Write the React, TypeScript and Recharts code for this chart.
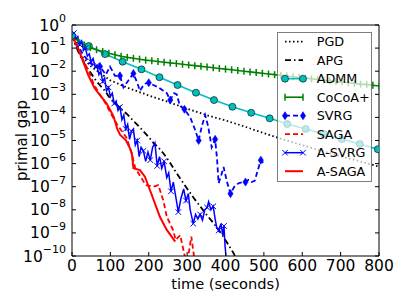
import React from 'react';
import { LineChart, Line, XAxis, YAxis } from 'recharts';

// axis ticks
const xTicks = [0, 100, 200, 300, 400, 500, 600, 700, 800];
const yTicks = [1, 1e-1, 1e-2, 1e-3, 1e-4, 1e-5, 1e-6, 1e-7, 1e-8, 1e-9, 1e-10];

const legendNames = ['PGD', 'APG', 'ADMM', 'CoCoA+', 'SVRG', 'SAGA', 'A-SVRG', 'A-SAGA'];

// primal gap, stored as log10 exponents
const pgdTime = [0, 10, 25, 50, 75, 100, 150, 200, 250, 300, 350, 400, 450, 500, 550, 600, 650, 700, 750, 800];
const pgdExp = [-0.45, -0.9, -1.35, -1.8, -2.1, -2.4, -2.75, -3.05, -3.33, -3.62, -3.9, -4.13, -4.4, -4.68, -4.95, -5.2, -5.45, -5.68, -5.9, -6.13];

const apgTime = [0, 8, 15, 25, 35, 50, 62, 75, 86, 96, 110, 125, 143, 160, 175, 186, 200, 212, 225, 238, 255, 270, 290, 305, 320, 334, 350, 365, 377, 392, 405, 420, 428];
const apgExp = [-0.45, -0.8, -1.1, -1.45, -1.75, -2.1, -2.4, -2.65, -2.85, -3.1, -3.35, -3.6, -3.85, -4.15, -4.4, -4.6, -4.85, -5.1, -5.3, -5.55, -5.95, -6.35, -6.85, -7.2, -7.55, -7.85, -8.2, -8.5, -8.75, -9.1, -9.45, -9.85, -10.1];

const admmTime = [0, 44, 86, 132, 181, 228, 275, 323, 370, 418, 467, 515, 561, 609, 656, 703, 750, 797];
const admmExp = [-0.45, -0.91, -1.26, -1.59, -1.92, -2.26, -2.6, -2.93, -3.25, -3.54, -3.8, -4.04, -4.29, -4.5, -4.72, -4.94, -5.15, -5.38];

const cocoaTime = [0, 16, 32, 48, 64, 80, 96, 112, 128, 144, 160, 176, 192, 208, 224, 240, 256, 272, 288, 304, 320, 336, 352, 368, 384, 400, 416, 432, 448, 464, 480, 496, 512, 528, 544, 560, 576, 592, 608, 624, 640, 656, 672, 688, 704, 720, 736, 752, 768, 784, 800];
const cocoaExp = [-0.45, -0.7, -0.87, -0.98, -1.07, -1.15, -1.22, -1.29, -1.35, -1.4, -1.44, -1.48, -1.52, -1.55, -1.58, -1.61, -1.64, -1.67, -1.7, -1.73, -1.76, -1.79, -1.82, -1.85, -1.88, -1.91, -1.94, -1.97, -2.0, -2.03, -2.06, -2.09, -2.12, -2.15, -2.18, -2.21, -2.24, -2.27, -2.3, -2.33, -2.36, -2.39, -2.42, -2.45, -2.47, -2.5, -2.53, -2.56, -2.58, -2.61, -2.64];

const svrgTime = [0, 15, 30, 45, 60, 73, 88, 99, 112, 125, 134, 147, 160, 170, 177, 188, 200, 212, 225, 238, 247, 256, 266, 273, 281, 293, 308, 320, 330, 338, 347, 355, 364, 373, 378, 382, 389, 395, 404, 413, 423, 434, 445, 452, 460, 468, 476, 492, 503];
const svrgExp = [-0.45, -0.9, -1.3, -1.6, -1.85, -1.8, -2.15, -1.8, -2.2, -2.2, -2.7, -2.4, -2.1, -2.5, -2.85, -2.55, -2.5, -2.6, -2.7, -2.85, -2.95, -3.25, -2.95, -3.0, -3.5, -3.65, -4.0, -4.5, -5.0, -4.4, -3.9, -4.4, -5.3, -4.95, -5.8, -6.85, -6.5, -6.15, -6.8, -7.3, -7.0, -6.85, -6.8, -6.8, -6.7, -6.8, -6.75, -5.85, -6.05];
const svrgMarkTime = [73, 125, 160, 200, 256, 293, 330, 373, 413, 452, 492];

const sagaTime = [0, 15, 30, 45, 55, 70, 85, 100, 116, 130, 143, 156, 165, 180, 192, 212, 225, 238, 247, 264, 270, 282, 299, 311, 321];
const sagaExp = [-0.45, -0.95, -1.55, -2.05, -2.5, -2.95, -3.32, -3.8, -4.26, -4.6, -4.9, -5.6, -6.2, -6.6, -6.93, -7.0, -6.93, -7.6, -8.3, -8.9, -9.3, -9.1, -10.4, -9.16, -10.4];

const asvrgTime = [0, 5, 10, 15, 20, 25, 30, 35, 40, 45, 50, 55, 60, 65, 70, 75, 80, 85, 90, 95, 100, 105, 110, 115, 120, 125, 130, 135, 140, 145, 150, 155, 160, 165, 170, 175, 180, 186, 192, 198, 204, 210, 216, 222, 228, 234, 240, 247, 252, 258, 264, 270, 277, 284, 291, 297, 303, 308, 316, 322, 328, 334, 340, 346, 352, 356, 362, 368, 373, 377, 382, 388, 393, 396, 399, 403];
const asvrgExp = [-0.45, -0.35, -0.6, -0.5, -0.85, -0.7, -1.1, -1.0, -1.35, -1.25, -1.6, -1.45, -1.8, -1.75, -2.15, -2.0, -2.45, -2.3, -2.85, -2.7, -3.1, -2.95, -3.4, -3.3, -3.7, -3.55, -4.1, -3.9, -4.5, -4.3, -4.95, -4.6, -4.5, -5.2, -5.0, -5.7, -5.3, -5.45, -5.9, -5.5, -5.85, -5.3, -5.1, -6.1, -5.7, -6.2, -5.9, -6.6, -6.4, -7.2, -6.8, -7.4, -8.1, -7.5, -7.1, -7.6, -7.3, -8.0, -8.6, -8.2, -8.4, -8.2, -8.45, -8.0, -7.9, -7.65, -8.0, -7.85, -8.4, -8.75, -8.9, -8.6, -9.1, -8.7, -9.6, -10.3];

const asagaTime = [0, 16, 29, 42, 59, 76, 90, 108, 118, 125, 140, 150, 156, 160, 177, 190, 208, 229, 247, 269];
const asagaExp = [-0.45, -1.0, -1.59, -2.16, -2.74, -3.1, -3.39, -3.95, -4.5, -4.75, -4.98, -5.3, -5.55, -6.2, -6.28, -6.57, -7.36, -8.3, -8.87, -9.38];

const toRows = (ts: number[], es: number[]) => ts.map((t, i) => ({ t, gap: Math.pow(10, es[i]) }));

const FONT = '"DejaVu Sans", "Bitstream Vera Sans", sans-serif';
const BLUE = '#0000ff';
const RED = '#ff0000';
const GREEN = '#008000';
const CYAN = '#00bfbf';

const XTick = ({ x, y, payload }: any) => (
  <text x={x} y={y} textAnchor="middle" fontFamily={FONT} fontSize={15.5} fill="#000">
    {payload.value}
  </text>
);

const YTick = ({ x, y, payload }: any) => {
  const e = Math.round(Math.log10(payload.value));
  return (
    <text x={x} y={y + 5.5} textAnchor="end" fontFamily={FONT} fontSize={15.5} fill="#000">
      <tspan>10</tspan>
      <tspan dy={-8.5} fontSize={11}>{e === 0 ? '0' : '\u2212' + Math.abs(e)}</tspan>
    </text>
  );
};

const NoTick = () => <g />;

const XTitle = () => (
  <text x={225.5} y={288.5} textAnchor="middle" fontFamily={FONT} fontSize={14.6} fill="#000">
    time (seconds)
  </text>
);

const YTitle = () => (
  <text x={27} y={140.5} textAnchor="middle" fontFamily={FONT} fontSize={15} fill="#000" transform="rotate(-90, 27, 140.5)">
    primal gap
  </text>
);

// markers
const circleMark = (cx: number, cy: number, k: any) => (
  <circle key={k} cx={cx} cy={cy} r={3.5} fill={CYAN} stroke="#000" strokeWidth={0.6} />
);
const barMark = (cx: number, cy: number, k: any) => (
  <line key={k} x1={cx} x2={cx} y1={cy - 3.5} y2={cy + 3.5} stroke={GREEN} strokeWidth={1.5} />
);
const diamondMark = (cx: number, cy: number, k: any) => (
  <path key={k} d={`M${cx},${cy - 4}L${cx + 2.6},${cy}L${cx},${cy + 4}L${cx - 2.6},${cy}Z`} fill={BLUE} stroke={BLUE} strokeWidth={0.6} />
);
const crossMark = (cx: number, cy: number, k: any) => (
  <path key={k} d={`M${cx - 2.8},${cy - 2.8}L${cx + 2.8},${cy + 2.8}M${cx - 2.8},${cy + 2.8}L${cx + 2.8},${cy - 2.8}`} stroke={BLUE} strokeWidth={1} fill="none" />
);

const AdmmDot = (p: any) => circleMark(p.cx, p.cy, `a${p.index}`);
const CocoaDot = (p: any) => barMark(p.cx, p.cy, `c${p.index}`);
const SvrgDot = (p: any) =>
  svrgMarkTime.includes(p.payload.t) ? diamondMark(p.cx, p.cy, `s${p.index}`) : <g key={`s${p.index}`} />;
const AsvrgDot = (p: any) =>
  p.index % 3 === 1 ? crossMark(p.cx, p.cy, `x${p.index}`) : <g key={`x${p.index}`} />;

const LegendBox = () => {
  const rowY = (i: number) => 9.7 + i * 18.5;
  const x1 = 8;
  const x2 = 26;
  const sample = (i: number) => {
    const y = rowY(i);
    switch (i) {
      case 0:
        return <line x1={x1} x2={x2} y1={y} y2={y} stroke="#000" strokeWidth={1.8} strokeDasharray="1.5 2.5" />;
      case 1:
        return <line x1={x1} x2={x2} y1={y} y2={y} stroke="#000" strokeWidth={1.8} strokeDasharray="6 3 1.5 3" />;
      case 2:
        return (
          <g>
            <line x1={x1} x2={x2} y1={y} y2={y} stroke={CYAN} strokeWidth={1.6} />
            {circleMark(x1, y, 'l1')}
            {circleMark(x2, y, 'l2')}
          </g>
        );
      case 3:
        return (
          <g>
            <line x1={x1} x2={x2} y1={y} y2={y} stroke={GREEN} strokeWidth={1.6} />
            {barMark(x1, y, 'l1')}
            {barMark(x2, y, 'l2')}
          </g>
        );
      case 4:
        return (
          <g>
            <line x1={x1} x2={x2} y1={y} y2={y} stroke={BLUE} strokeWidth={1.8} strokeDasharray="5 3" />
            {diamondMark(x1, y, 'l1')}
            {diamondMark(x2, y, 'l2')}
          </g>
        );
      case 5:
        return <line x1={x1} x2={x2} y1={y} y2={y} stroke={RED} strokeWidth={1.8} strokeDasharray="5 3" />;
      case 6:
        return (
          <g>
            <line x1={x1} x2={x2} y1={y} y2={y} stroke={BLUE} strokeWidth={1.5} />
            {crossMark(x1, y, 'l1')}
            {crossMark(x2, y, 'l2')}
          </g>
        );
      default:
        return <line x1={x1} x2={x2} y1={y} y2={y} stroke={RED} strokeWidth={2} />;
    }
  };
  return (
    <div
      style={{
        position: 'absolute',
        left: 277,
        top: 32,
        width: 95,
        height: 150,
        boxSizing: 'border-box',
        border: '1px solid rgba(0,0,0,0.5)',
        background: 'rgba(255,255,255,0.7)',
      }}
    >
      <svg width={95} height={150} style={{ position: 'absolute', left: -1, top: -1, overflow: 'visible' }}>
        {legendNames.map((name, i) => (
          <g key={name}>
            {sample(i)}
            <text x={39.7} y={rowY(i) + 4.6} fontFamily={FONT} fontSize={12.8} fill="#000">
              {name}
            </text>
          </g>
        ))}
      </svg>
    </div>
  );
};

export default function App() {
  return (
    <div style={{ position: 'absolute', left: 0, top: 0, width: 407, height: 307, background: '#fff' }}>
      <LineChart width={407} height={307} margin={{ top: 0, right: 0, bottom: 0, left: 0 }}>
        <XAxis
          xAxisId="b"
          dataKey="t"
          type="number"
          domain={[0, 800]}
          ticks={xTicks}
          interval={0}
          allowDataOverflow
          height={51}
          tickSize={-4}
          tickMargin={18.5}
          tick={<XTick />}
          axisLine={{ stroke: '#000', strokeWidth: 1 }}
          tickLine={{ stroke: '#000', strokeWidth: 1 }}
          label={<XTitle />}
        />
        <XAxis
          xAxisId="t"
          orientation="top"
          type="number"
          domain={[0, 800]}
          ticks={xTicks}
          interval={0}
          height={25}
          tickSize={-4}
          tick={<NoTick />}
          axisLine={{ stroke: '#000', strokeWidth: 1 }}
          tickLine={{ stroke: '#000', strokeWidth: 1 }}
        />
        <YAxis
          yAxisId="l"
          type="number"
          scale="log"
          domain={[1e-10, 1]}
          ticks={yTicks}
          interval={0}
          allowDataOverflow
          width={72}
          tickSize={-4}
          tickMargin={10}
          tick={<YTick />}
          axisLine={{ stroke: '#000', strokeWidth: 1 }}
          tickLine={{ stroke: '#000', strokeWidth: 1 }}
          label={<YTitle />}
        />
        <YAxis
          yAxisId="r"
          orientation="right"
          type="number"
          scale="log"
          domain={[1e-10, 1]}
          ticks={yTicks}
          interval={0}
          allowDataOverflow
          width={28}
          tickSize={-4}
          tick={<NoTick />}
          axisLine={{ stroke: '#000', strokeWidth: 1 }}
          tickLine={{ stroke: '#000', strokeWidth: 1 }}
        />

        <Line
          xAxisId="b"
          yAxisId="l"
          data={toRows(pgdTime, pgdExp)}
          dataKey="gap"
          name="PGD"
          type="linear"
          stroke="#000"
          strokeWidth={1.8}
          strokeDasharray="1.5 2.5"
          dot={false}
          isAnimationActive={false}
        />
        <Line
          xAxisId="b"
          yAxisId="l"
          data={toRows(apgTime, apgExp)}
          dataKey="gap"
          name="APG"
          type="linear"
          stroke="#000"
          strokeWidth={1.8}
          strokeDasharray="6 3 1.5 3"
          dot={false}
          isAnimationActive={false}
        />
        <Line
          xAxisId="b"
          yAxisId="l"
          data={toRows(admmTime, admmExp)}
          dataKey="gap"
          name="ADMM"
          type="linear"
          stroke={CYAN}
          strokeWidth={1.6}
          dot={AdmmDot}
          isAnimationActive={false}
        />
        <Line
          xAxisId="b"
          yAxisId="l"
          data={toRows(cocoaTime, cocoaExp)}
          dataKey="gap"
          name="CoCoA+"
          type="linear"
          stroke={GREEN}
          strokeWidth={1.6}
          dot={CocoaDot}
          isAnimationActive={false}
        />
        <Line
          xAxisId="b"
          yAxisId="l"
          data={toRows(svrgTime, svrgExp)}
          dataKey="gap"
          name="SVRG"
          type="linear"
          stroke={BLUE}
          strokeWidth={1.8}
          strokeDasharray="5 3"
          dot={SvrgDot}
          isAnimationActive={false}
        />
        <Line
          xAxisId="b"
          yAxisId="l"
          data={toRows(sagaTime, sagaExp)}
          dataKey="gap"
          name="SAGA"
          type="linear"
          stroke={RED}
          strokeWidth={1.8}
          strokeDasharray="5 3"
          dot={false}
          isAnimationActive={false}
        />
        <Line
          xAxisId="b"
          yAxisId="l"
          data={toRows(asvrgTime, asvrgExp)}
          dataKey="gap"
          name="A-SVRG"
          type="linear"
          stroke={BLUE}
          strokeWidth={1.5}
          dot={AsvrgDot}
          isAnimationActive={false}
        />
        <Line
          xAxisId="b"
          yAxisId="l"
          data={toRows(asagaTime, asagaExp)}
          dataKey="gap"
          name="A-SAGA"
          type="linear"
          stroke={RED}
          strokeWidth={2}
          dot={false}
          isAnimationActive={false}
        />
      </LineChart>
      <LegendBox />
    </div>
  );
}
